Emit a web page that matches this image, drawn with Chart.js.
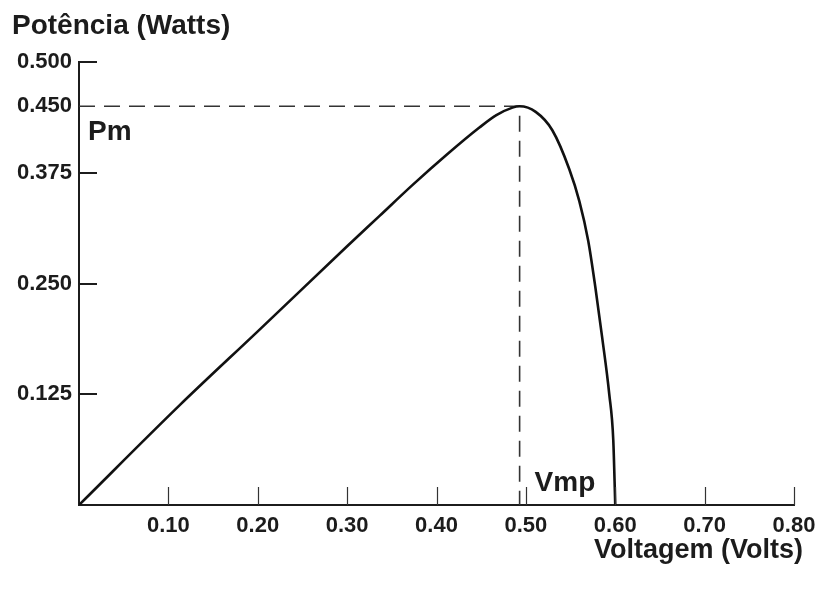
<!DOCTYPE html>
<html><head><meta charset="utf-8">
<script src="https://cdn.jsdelivr.net/npm/chart.js@4/dist/chart.umd.min.js"></script>
<style>html,body{margin:0;padding:0;background:#fff}</style>
</head><body>
<canvas id="c" width="819" height="589" style="width:819px;height:589px;display:block"></canvas>
<script>
// ---- data ----
const voltage = [0, 0.113, 0.2, 0.3, 0.336, 0.373, 0.411, 0.448, 0.467, 0.485, 0.493, 0.511, 0.5296, 0.5486, 0.5598, 0.5698, 0.5777, 0.5855, 0.5933, 0.5978, 0.600];
const power   = [0, 0.113, 0.196, 0.292, 0.326, 0.361, 0.395, 0.426, 0.440, 0.4485, 0.450, 0.4437, 0.423, 0.379, 0.343, 0.298, 0.246, 0.188, 0.125, 0.073, 0];
const xTickValues = [0.1, 0.2, 0.3, 0.4, 0.5, 0.6, 0.7, 0.8];
const xTickLabels = ['0.10', '0.20', '0.30', '0.40', '0.50', '0.60', '0.70', '0.80'];
const yTickValues = [0.125, 0.25, 0.375, 0.45, 0.5];
const yTickLabels = ['0.125', '0.250', '0.375', '0.450', '0.500'];
const pmValue = 0.45;
const vmpValue = 0.493;
const yAxisTitle = 'Potência (Watts)';
const xAxisTitle = 'Voltagem (Volts)';
const pmLabel = 'Pm';
const vmpLabel = 'Vmp';

const FONT = '"Liberation Sans", Arial, Helvetica, sans-serif';
const INK = '#1c1c1c';

const curve = voltage.map((v, i) => ({ x: v, y: power[i] }));
const guide = [{ x: 0, y: pmValue }, { x: vmpValue, y: pmValue }, { x: vmpValue, y: 0 }];

const decor = {
  id: 'decor',
  afterDraw(chart) {
    const ctx = chart.ctx;
    const xs = chart.scales.x, ys = chart.scales.y;
    const a = chart.chartArea;
    ctx.save();
    // inner tick marks on the y axis
    ctx.strokeStyle = INK;
    ctx.lineWidth = 2;
    yTickValues.forEach(v => {
      if (v === pmValue) return;
      const y = Math.round(ys.getPixelForValue(v));
      ctx.beginPath(); ctx.moveTo(a.left, y); ctx.lineTo(a.left + 18, y); ctx.stroke();
    });
    // inner tick marks on the x axis
    ctx.lineWidth = 1.2;
    ctx.strokeStyle = '#333';
    xTickValues.forEach(v => {
      const x = Math.round(xs.getPixelForValue(v)) + 0.5;
      ctx.beginPath(); ctx.moveTo(x, a.bottom); ctx.lineTo(x, a.bottom - 18); ctx.stroke();
    });
    // point labels
    ctx.fillStyle = INK;
    ctx.font = 'bold 28px ' + FONT;
    ctx.textBaseline = 'middle';
    ctx.textAlign = 'left';
    ctx.fillText(pmLabel, a.left + 9, ys.getPixelForValue(pmValue) + 26);
    ctx.fillText(vmpLabel, xs.getPixelForValue(vmpValue) + 15, a.bottom - 22);
    // axis titles
    ctx.font = 'bold 28px ' + FONT;
    ctx.textAlign = 'left';
    ctx.fillText(yAxisTitle, 12, 26);
    ctx.font = 'bold 27px ' + FONT;
    ctx.textAlign = 'right';
    ctx.fillText(xAxisTitle, 803, 551);
    ctx.restore();
  }
};

new Chart(document.getElementById('c'), {
  type: 'line',
  data: {
    datasets: [
      {
        data: curve,
        borderColor: '#111',
        borderWidth: 2.6,
        pointRadius: 0,
        cubicInterpolationMode: 'monotone',
        fill: false
      },
      {
        data: guide,
        borderColor: '#333',
        borderWidth: 1.6,
        borderDash: [16, 9],
        pointRadius: 0,
        tension: 0,
        fill: false
      }
    ]
  },
  options: {
    responsive: false,
    animation: false,
    devicePixelRatio: 1,
    layout: { padding: { top: 62, right: 25, left: 0, bottom: 0 } },
    plugins: { legend: { display: false }, tooltip: { enabled: false }, title: { display: false } },
    scales: {
      x: {
        type: 'linear', min: 0, max: 0.8,
        afterBuildTicks: s => { s.ticks = xTickValues.map(v => ({ value: v })); },
        afterFit: s => { s.height = 84; s.paddingRight = 0; s.paddingLeft = 0; },
        grid: { display: false, drawTicks: false },
        border: { display: true, color: INK, width: 2 },
        ticks: {
          padding: 8,
          color: INK,
          font: { family: FONT, size: 22, weight: 'bold' },
          maxRotation: 0,
          autoSkip: false,
          callback: (v) => xTickLabels[xTickValues.indexOf(v)] ?? ''
        }
      },
      y: {
        type: 'linear', min: 0, max: 0.5,
        afterBuildTicks: s => { s.ticks = yTickValues.map(v => ({ value: v })); },
        afterFit: s => { s.width = 79; },
        grid: { display: false, drawTicks: false },
        border: { display: true, color: INK, width: 2 },
        ticks: {
          padding: 7,
          color: INK,
          font: { family: FONT, size: 22, weight: 'bold' },
          autoSkip: false,
          callback: (v) => yTickLabels[yTickValues.indexOf(v)] ?? ''
        }
      }
    }
  },
  plugins: [decor]
});
</script>
</body></html>
